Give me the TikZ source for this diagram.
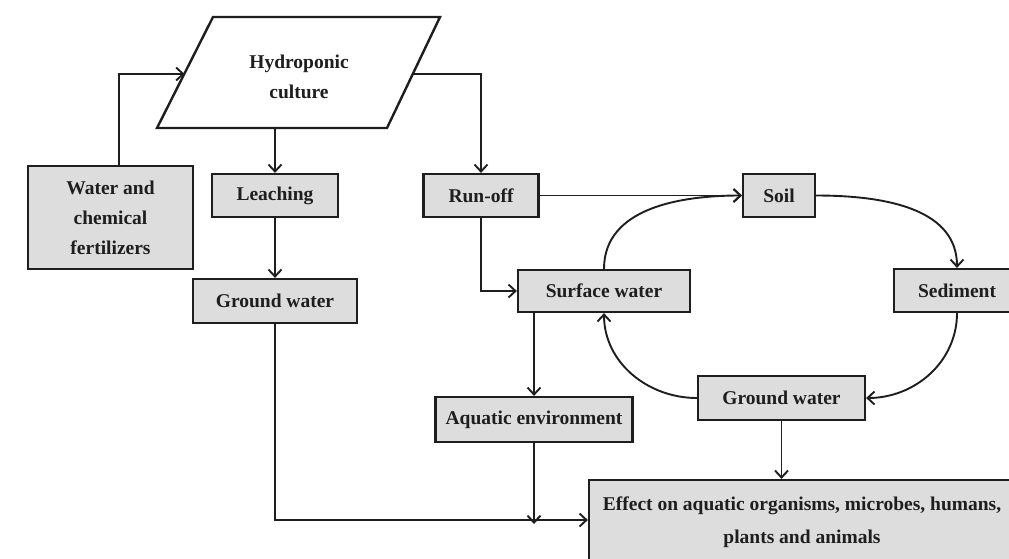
\documentclass[tikz,border=0pt]{standalone}
\usepackage{fontspec}
\setmainfont{Liberation Serif}
\usetikzlibrary{arrows.meta}
\definecolor{boxgray}{RGB}{221,221,221}
\definecolor{ink}{RGB}{30,30,30}
\begin{document}
\begin{tikzpicture}[x=1pt,y=-1pt,
  txt/.style={font=\fontsize{19.5}{30}\selectfont\bfseries, align=center, text=ink},
  box/.style={txt, draw=ink, line width=2.2pt, fill=boxgray, inner sep=0pt},
  ln/.style={draw=ink, line width=1.9pt},
  arr/.style={ln, -{Straight Barb[length=7pt,width=13pt,line width=1.9pt]}}]
\clip (0,0) rectangle (1009,558);
\fill[white] (0,0) rectangle (1009,558);

% parallelogram
\draw[ink, line width=2.4pt, fill=white] (213,17) -- (440,17) -- (387,128) -- (157,128) -- cycle;
\node[txt] (hydro) at (299,77) {Hydroponic\\culture};
\coordinate (hydroL) at (184.5,74);
\coordinate (hydroR) at (413,74);
\coordinate (hydroB) at (275,128);

% boxes
\node[box, minimum width=165pt, minimum height=103pt] (water) at (110.5,217.5) {Water and\\chemical\\fertilizers};
\node[box, minimum width=126pt, minimum height=43pt] (leach) at (275,195.5) {Leaching};
\node[box, minimum width=115pt, minimum height=43pt] (runoff) at (481,195.5) {Run-off};
\node[box, minimum width=164pt, minimum height=44pt] (gwL) at (275,301) {Ground water};
\node[box, minimum width=72pt, minimum height=43pt] (soil) at (779,195.5) {Soil};
\node[box, minimum width=172pt, minimum height=42pt] (surf) at (604,291) {Surface water};
\node[box, minimum width=126pt, minimum height=43pt] (sed) at (957,290.5) {Sediment};
\node[box, minimum width=197pt, minimum height=45pt] (aqua) at (534,419.5) {Aquatic environment};
\node[box, minimum width=167pt, minimum height=44pt] (gwR) at (781.5,398) {Ground water};
\node[box, minimum width=426pt, minimum height=84pt, font=\fontsize{19.5}{33}\selectfont\bfseries] (effect) at (802,522) {Effect on aquatic organisms, microbes, humans,\\plants and animals};

% connectors
\draw[arr] ([xshift=8.5pt]water.north) |- (hydroL);
\draw[arr] (hydroR) -| (runoff.north);
\draw[arr] (hydroB) -- (leach.north);
\draw[arr] (leach.south) -- (gwL.north);
\draw[arr] (gwL.south) |- ([yshift=2pt]effect.west);
\draw[arr] (aqua.south) -- (aqua.south |- 0,524);
\draw[arr] (gwR.south) -- (gwR.south |- effect.north);
\draw[arr] (runoff.east) -- (soil.west);
\draw[arr] (runoff.south) |- (surf.west);
\draw[arr] (aqua.north |- surf.south) -- (aqua.north);

% cycle
\draw[arr] (surf.north) to[out=90, in=180] (soil.west);
\draw[arr] (soil.east) to[out=0, in=90] (sed.north);
\draw[arr] (sed.south) to[out=-90, in=0] (gwR.east);
\draw[arr] (gwR.west) to[out=180, in=-90] (surf.south);
\end{tikzpicture}
\end{document}
